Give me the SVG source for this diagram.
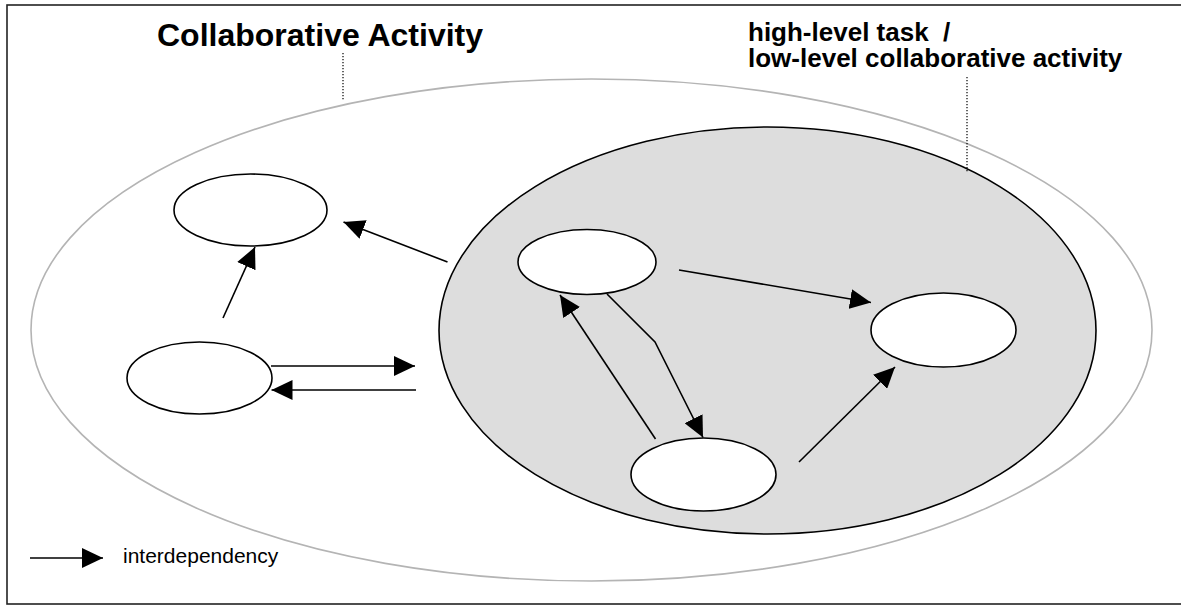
<svg xmlns="http://www.w3.org/2000/svg" width="1181" height="606" viewBox="0 0 1181 606">
<defs>
<style>
.frame{fill:#fff;stroke:#222;stroke-width:1.6}
.outer{fill:none;stroke:#b4b4b4;stroke-width:1.6}
.inner{fill:#dddddd;stroke:#000;stroke-width:1.6}
.node{fill:#fff;stroke:#000;stroke-width:1.6}
.edge{fill:none;stroke:#000;stroke-width:1.6}
.lead{fill:none;stroke:#000;stroke-width:1.2;stroke-dasharray:1.2 1.8}
.title{font-family:"Liberation Sans",Arial,sans-serif;font-weight:bold;fill:#000}
.legend{font-family:"Liberation Sans",Arial,sans-serif;fill:#000}
</style>
<marker id="arrow" viewBox="0 0 21 20" markerUnits="userSpaceOnUse" markerWidth="21" markerHeight="20" refX="21" refY="10" orient="auto">
<path d="M0,0 L21,10 L0,20 z" fill="#000"/>
</marker>
</defs>
<rect class="frame" x="7" y="5" width="1180" height="599"/>
<g id="collaborative-activity">
<ellipse class="outer" cx="591.5" cy="330" rx="560.5" ry="251"/>
</g>
<g id="high-level-task">
<ellipse class="inner" cx="767.5" cy="330.5" rx="328.5" ry="203.5"/>
</g>
<g id="node-top-left"><ellipse class="node" cx="250.5" cy="210" rx="76.5" ry="36"/></g>
<g id="node-left"><ellipse class="node" cx="199.5" cy="378" rx="72.5" ry="36"/></g>
<g id="node-inner-top"><ellipse class="node" cx="587" cy="262" rx="69" ry="32.5"/></g>
<g id="node-inner-right"><ellipse class="node" cx="943.5" cy="330" rx="72.5" ry="37"/></g>
<g id="node-inner-bottom"><ellipse class="node" cx="703.5" cy="474.5" rx="72.5" ry="36.5"/></g>
<g id="connectors">
<line class="edge" x1="223" y1="318" x2="255" y2="247" marker-end="url(#arrow)"/>
<line class="edge" x1="447.5" y1="262" x2="343.5" y2="222" marker-end="url(#arrow)"/>
<line class="edge" x1="271" y1="366" x2="415" y2="366" marker-end="url(#arrow)"/>
<line class="edge" x1="416" y1="390" x2="271.5" y2="390" marker-end="url(#arrow)"/>
<line class="edge" x1="679" y1="270" x2="871" y2="302.5" marker-end="url(#arrow)"/>
<line class="edge" x1="799" y1="462" x2="895" y2="367" marker-end="url(#arrow)"/>
<line class="edge" x1="655.5" y1="439" x2="560" y2="295" marker-end="url(#arrow)"/>
<polyline class="edge" points="607,294 655,342 703,437.5" marker-end="url(#arrow)"/>
</g>
<g id="labels">
<text class="title" x="157" y="46" font-size="32">Collaborative Activity</text>
<line class="lead" x1="343" y1="53" x2="343" y2="100"/>
<text class="title" x="748" y="41" font-size="26" xml:space="preserve">high-level task  /</text>
<text class="title" x="748" y="67" font-size="26">low-level collaborative activity</text>
<line class="lead" x1="967" y1="77" x2="967" y2="173"/>
</g>
<g id="legend">
<line class="edge" x1="30" y1="558" x2="103" y2="558" marker-end="url(#arrow)"/>
<text class="legend" x="123" y="563" font-size="21">interdependency</text>
</g>
</svg>
